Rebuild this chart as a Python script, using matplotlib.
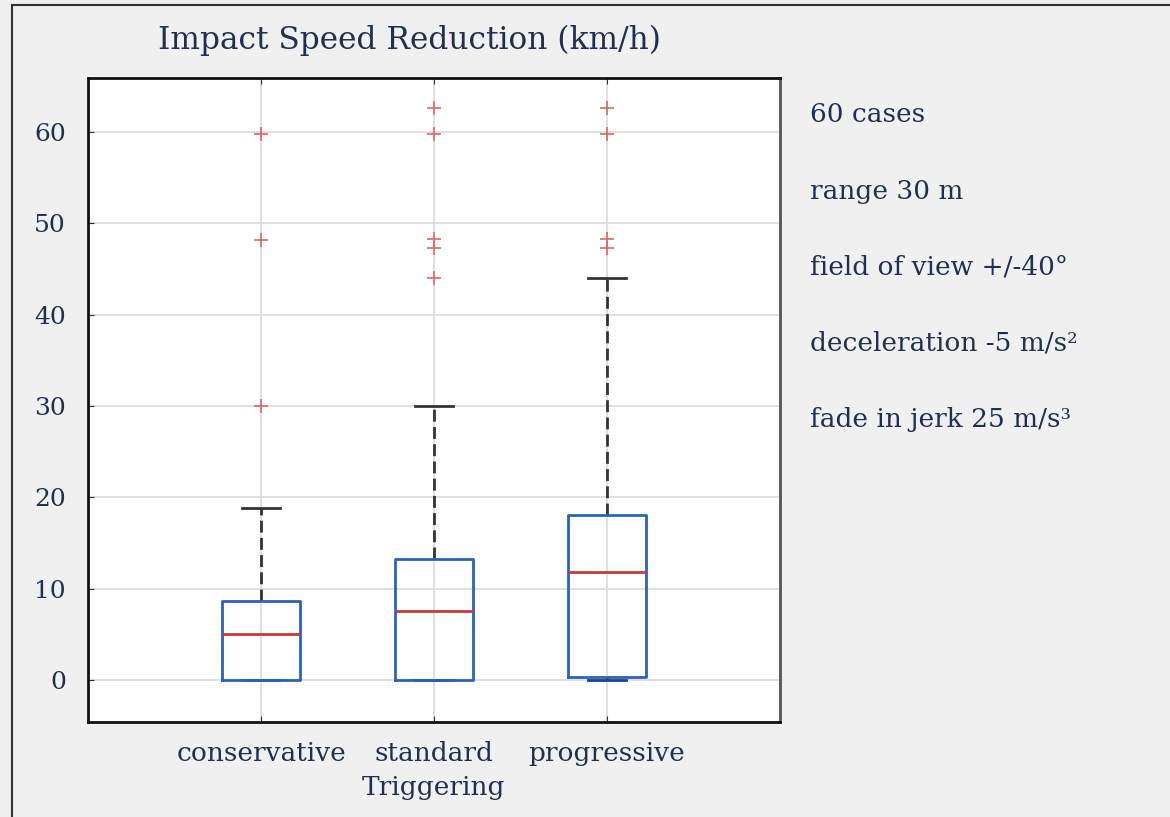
import matplotlib.pyplot as plt
from matplotlib.lines import Line2D

plt.rcParams['font.family'] = ['DejaVu Serif']

labels = ["conservative", "standard\nTriggering", "progressive"]
q1 = [0.0, 0.0, 0.3]
med = [5.0, 7.5, 11.8]
q3 = [8.7, 13.2, 18.1]
whislo = [0.0, 0.0, 0.0]
whishi = [18.8, 30.0, 44.0]
fliers = [
    [30.0, 48.2, 59.8],
    [44.0, 47.3, 48.3, 59.8, 62.6],
    [47.3, 48.3, 59.8, 62.6],
]
notes = ["60 cases", "range 30 m", "field of view +/-40\u00b0",
         "deceleration -5 m/s\u00b2", "fade in jerk 25 m/s\u00b3"]

txt = '#22304f'
bg = '#f0f0f0'

fig = plt.figure(figsize=(11.7, 8.17), dpi=100, facecolor=bg)
ax = fig.add_axes([88/1170, 1-722/817, 692/1170, 644/817])

stats = []
for i in range(3):
    stats.append(dict(q1=q1[i], med=med[i], q3=q3[i], whislo=whislo[i],
                      whishi=whishi[i], fliers=fliers[i], label=labels[i]))

parts = ax.bxp(stats, positions=[1, 2, 3], widths=0.45, showfliers=True,
               boxprops=dict(color='#2b62b8', linewidth=2.0),
               medianprops=dict(color='#c8373a', linewidth=2.0),
               whiskerprops=dict(color='#333333', linewidth=2.0, linestyle=(0, (4.3, 1.9))),
               capprops=dict(color='#333333', linewidth=2.0),
               capwidths=0.22,
               flierprops=dict(marker='+', markeredgecolor='#e06666', markersize=10,
                               markeredgewidth=1.2, linestyle='none'))
for b in parts['boxes']:
    b.set_zorder(4)
for m in parts['medians']:
    m.set_zorder(5)
for c in parts['caps'][0::2]:
    c.set_color('#1f3f8f')
    c.set_zorder(3)

ax.set_xlim(0, 4)
ax.set_ylim(-4.6, 65.9)
ax.set_yticks(range(0, 61, 10))
ax.grid(True, color='#dddddd', linewidth=1.3)
ax.set_axisbelow(True)
ax.tick_params(direction='in', length=4, top=True, right=False,
               labelsize=18, colors='#333333', labelcolor=txt)
ax.tick_params(axis='y', pad=16)
ax.tick_params(axis='x', pad=14, labelsize=19)
for t in ax.get_xticklabels():
    t.set_color(txt)
    t.set_linespacing(1.45)
for s in ax.spines.values():
    s.set_linewidth(2.0)
    s.set_color('#111111')
ax.spines['right'].set_color('#555555')

fig.text(410/1170, 1-40/817, "Impact Speed Reduction (km/h)", ha='center',
         va='center', fontsize=22.5, color=txt)

for k, s in enumerate(notes):
    fig.text(810/1170, 1-(115 + 76*k)/817, s, ha='left', va='center',
             fontsize=19, color=txt)

# frame around the figure
fig.add_artist(Line2D([12/1170, 12/1170], [0, 1-5/817], transform=fig.transFigure,
                      color='#333333', linewidth=1.5))
fig.add_artist(Line2D([12/1170, 1], [1-5/817, 1-5/817], transform=fig.transFigure,
                      color='#333333', linewidth=1.5))

fig.savefig("out.png", dpi=100, facecolor=bg)
